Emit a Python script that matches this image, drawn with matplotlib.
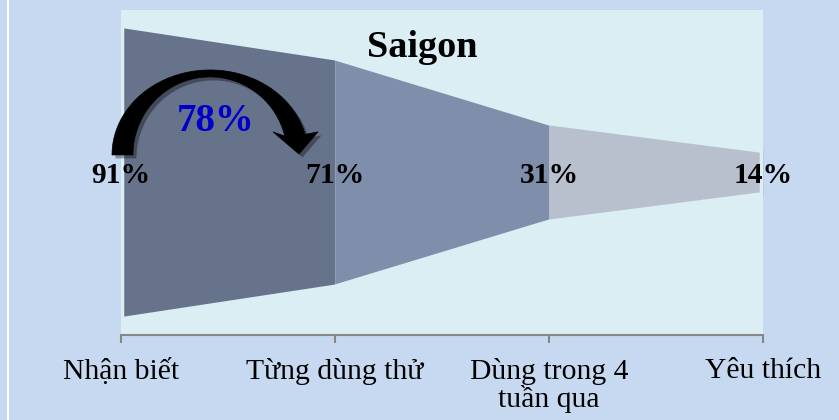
import numpy as np
import matplotlib.pyplot as plt
from matplotlib.patches import Polygon
from matplotlib.lines import Line2D
import matplotlib.patheffects as pe

stages = ["Nhận biết", "Từng dùng thử", "Dùng trong 4\ntuần qua", "Yêu thích"]
values = [91, 71, 31, 14]
value_labels = ["91%", "71%", "31%", "14%"]
title = "Saigon"
conversion_label = "78%"

outer_bg = "#c6d9f1"
plot_bg = "#daeef3"
seg_colors = ["#67738b", "#7f8eab", "#b9c0cd"]
axis_gray = "#878787"
serif = ["Liberation Serif", "DejaVu Serif"]

fig = plt.figure(figsize=(8.39, 4.2), dpi=100)
fig.patch.set_facecolor(outer_bg)
ax = fig.add_axes([0.1442, 0.2024, 0.7652, 0.7738])
ax.set_facecolor(plot_bg)

x = np.arange(len(values))
vals = np.array(values, dtype=float)
lower = (100 - vals) / 2
upper = (100 + vals) / 2

# funnel segments, one colour between each pair of stages
for i, color in enumerate(seg_colors):
    ax.fill_between(x[i:i + 2], lower[i:i + 2], upper[i:i + 2], color=color, lw=0)

# outline in plot colour gives the slight inset look
ax.fill(np.r_[x, x[::-1]], np.r_[upper, lower[::-1]], fc="none", ec=plot_bg, lw=4.7)

for xi, lab in zip(x, value_labels):
    ax.text(xi, 46.8, lab, ha="center", va="baseline", fontsize=21.3,
            fontweight="bold", family=serif, color="black", zorder=5, clip_on=False)

ax.text(0.47, 0.855, title, transform=ax.transAxes, ha="center", va="baseline",
        fontsize=27.5, fontweight="bold", family=serif, color="black")

# curved conversion arrow from stage 0 to stage 1
cx, cy = 0.416, 55.4
t = np.radians(np.linspace(180, 14, 80))
outer = np.c_[cx + 0.458 * np.cos(t), cy + 26.15 * np.sin(t)]
inner = np.c_[cx + 0.36 * np.cos(t), cy + 24.0 * np.sin(t)]
head = np.array([[0.921, 62.5], [0.832, 55.7], [0.710, 62.5]])
arrow_pts = np.vstack([outer, head, inner[::-1]])
arrow = Polygon(arrow_pts, closed=True, fc="black", ec="black", lw=0.5, zorder=4,
                clip_on=False)
arrow.set_path_effects([pe.SimplePatchShadow(offset=(2.5, -2.5), alpha=0.35), pe.Normal()])
ax.add_patch(arrow)

ax.text(0.44, 65.8, conversion_label, ha="center", va="center", fontsize=28,
        fontweight="bold", family=serif, color="#0000cc", zorder=6)

ax.set_xlim(0, 3)
ax.set_ylim(0, 100)
ax.set_xticks(x)
ax.set_xticklabels(stages, family=serif, fontsize=21.3, linespacing=1.02)
ax.tick_params(axis="x", length=5.8, width=1.5, color=axis_gray, pad=10.5)
ax.set_yticks([])
for side in ["left", "right", "top"]:
    ax.spines[side].set_visible(False)
ax.spines["bottom"].set_color(axis_gray)
ax.spines["bottom"].set_linewidth(1.5)

fig.add_artist(Line2D([8 / 839, 8 / 839], [0, 1], color="white", lw=1.5,
                      transform=fig.transFigure))

plt.savefig("out.png", facecolor=fig.get_facecolor())
